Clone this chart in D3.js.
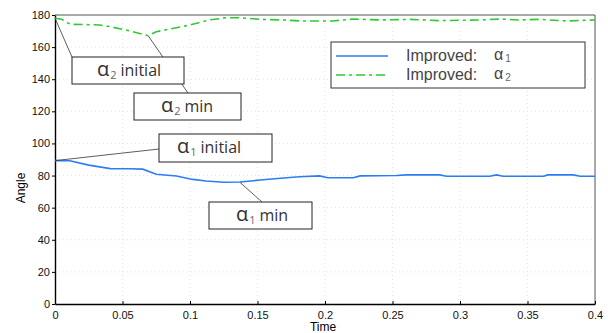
<!DOCTYPE html>
<html>
<head>
<meta charset="utf-8">
<script src="https://cdn.jsdelivr.net/npm/d3@7"></script>
<style>
  body { margin: 0; background: #fff; }
  svg { display: block; font-family: "Liberation Sans", Arial, sans-serif; }
</style>
</head>
<body>
<script>
// series: time (s) and angle (deg)
var alpha1Time = [0, 0.011, 0.025, 0.041, 0.055, 0.065, 0.075, 0.09, 0.102, 0.112, 0.125, 0.137, 0.152, 0.167, 0.181, 0.196, 0.202, 0.221, 0.226, 0.253, 0.26, 0.285, 0.29, 0.322, 0.327, 0.332, 0.362, 0.365, 0.384, 0.389, 0.4];
var alpha1Vals = [89.3, 89.2, 86.5, 84.3, 84.2, 84, 80.8, 79.7, 77.6, 76.6, 75.8, 76, 77.2, 78.3, 79.3, 79.8, 78.6, 78.6, 79.8, 80, 80.4, 80.4, 79.6, 79.6, 80.4, 79.6, 79.6, 80.4, 80.4, 79.6, 79.6];

var alpha2Time = [0, 0.005, 0.01, 0.012, 0.033, 0.041, 0.056, 0.069, 0.075, 0.088, 0.1, 0.115, 0.127, 0.137, 0.152, 0.169, 0.181, 0.206, 0.221, 0.241, 0.263, 0.285, 0.315, 0.33, 0.344, 0.359, 0.379, 0.4];
var alpha2Vals = [178, 177.3, 174.8, 174.2, 173.8, 172.7, 170, 167.1, 169.6, 171.7, 173.8, 177, 178.3, 178.3, 177.3, 176.9, 176.3, 176.3, 177.5, 176.9, 177.3, 176.5, 176.9, 177.5, 176.9, 177.3, 176.3, 176.9];

var xTicks = [0, 0.05, 0.1, 0.15, 0.2, 0.25, 0.3, 0.35, 0.4];
var yTicks = [0, 20, 40, 60, 80, 100, 120, 140, 160, 180];

var legendNames = ["Improved:", "Improved:"];
var legendSubs = ["1", "2"];

// annotation text + the data point each one points at
var noteSub = ["2", "2", "1", "1"];
var noteText = ["initial", "min", "initial", "min"];
var noteTime = [0, 0.069, 0, 0.137];
var noteVal = [178, 167.1, 89.3, 75.8];

var W = 608, H = 333;
var blue = "#2d7df2", green = "#2ccc2c";

var svg = d3.select("body").append("svg")
  .attr("width", W)
  .attr("height", H);

var x = d3.scaleLinear().domain([0, 0.4]).range([55, 595]);
var y = d3.scaleLinear().domain([0, 180]).range([304, 15]);

//--------------------------------------
// Grid + frame
//--------------------------------------

var grid = svg.append("g").attr("stroke", "#e4e4e4").attr("stroke-dasharray", "1,3");
grid.selectAll(".gx").data(xTicks.slice(1, -1)).enter().append("line")
  .attr("x1", function(d) { return x(d); }).attr("x2", function(d) { return x(d); })
  .attr("y1", y(180)).attr("y2", y(0));
grid.selectAll(".gy").data(yTicks.slice(1, -1)).enter().append("line")
  .attr("x1", x(0)).attr("x2", x(0.4))
  .attr("y1", function(d) { return y(d); }).attr("y2", function(d) { return y(d); });

svg.append("path")
  .attr("d", "M" + x(0) + "," + y(180) + "H" + x(0.4) + "V" + y(0))
  .attr("fill", "none")
  .attr("stroke", "#555");

var fmt = function(d) { return d === 0 ? "0" : String(+d.toFixed(2)); };

svg.append("g")
  .attr("transform", "translate(0," + y(0) + ")")
  .call(d3.axisBottom(x).tickValues(xTicks).tickFormat(fmt).tickSizeInner(-3).tickSizeOuter(0).tickPadding(7))
  .call(function(g) {
    g.select(".domain").attr("stroke", "#000").attr("stroke-width", 1.4);
    g.selectAll("text").attr("font-size", 11).attr("fill", "#111");
  });

svg.append("g")
  .attr("transform", "translate(" + x(0) + ",0)")
  .call(d3.axisLeft(y).tickValues(yTicks).tickSizeInner(3).tickSizeOuter(0).tickPadding(2))
  .call(function(g) {
    g.select(".domain").attr("stroke", "#000").attr("stroke-width", 1.4);
    g.selectAll("text").attr("font-size", 11).attr("fill", "#111");
  });

svg.append("text")
  .attr("transform", "translate(25,188) rotate(-90)")
  .attr("text-anchor", "middle")
  .attr("font-size", 12)
  .text("Angle");

svg.append("text")
  .attr("x", 323).attr("y", 331)
  .attr("text-anchor", "middle")
  .attr("font-size", 12)
  .text("Time");

//--------------------------------------
// Series
//--------------------------------------

var line = d3.line()
  .x(function(d) { return x(d[0]); })
  .y(function(d) { return y(d[1]); });

svg.append("path")
  .datum(d3.zip(alpha2Time, alpha2Vals))
  .attr("d", line)
  .attr("fill", "none")
  .attr("stroke", green)
  .attr("stroke-width", 1.6)
  .attr("stroke-dasharray", "9,4,3,4");

svg.append("path")
  .datum(d3.zip(alpha1Time, alpha1Vals))
  .attr("d", line)
  .attr("fill", "none")
  .attr("stroke", blue)
  .attr("stroke-width", 1.6);

//--------------------------------------
// Annotations
//--------------------------------------

// box rect [x, y, w, h] and leader end point
var boxes = [[72, 57, 112, 27], [134, 93, 107, 27], [159, 134, 113, 28], [209, 202, 103, 27]];
var ends = [[72, 57], [188, 93], [159, 149], [262, 202]];
var textX = [97, 161, 177, 236];

var notes = svg.append("g");
noteText.forEach(function(t, i) {
  notes.append("line")
    .attr("x1", x(noteTime[i])).attr("y1", y(noteVal[i]))
    .attr("x2", ends[i][0]).attr("y2", ends[i][1])
    .attr("stroke", "#333").attr("stroke-width", 0.8);
});
noteText.forEach(function(t, i) {
  var b = boxes[i];
  notes.append("rect")
    .attr("x", b[0]).attr("y", b[1]).attr("width", b[2]).attr("height", b[3])
    .attr("fill", "#fff").attr("stroke", "#222").attr("stroke-width", 1);
  var txt = notes.append("text")
    .attr("x", textX[i]).attr("y", b[1] + 19)
    .attr("fill", "#333")
    .attr("font-family", "'Open Sans', sans-serif");
  txt.append("tspan").attr("font-size", 20).text("α");
  txt.append("tspan").attr("font-size", 11).attr("dy", 3).attr("dx", 1).attr("fill", "#666").text(noteSub[i]);
  txt.append("tspan").attr("font-size", 16).attr("dy", -3).attr("dx", 4).text(t);
});

//--------------------------------------
// Legend
//--------------------------------------

var lg = svg.append("g");
lg.append("rect")
  .attr("x", 331).attr("y", 42).attr("width", 254).attr("height", 46)
  .attr("fill", "#fff").attr("stroke", "#333").attr("stroke-width", 1);

legendNames.forEach(function(name, i) {
  var ly = 56 + i * 19;
  lg.append("line")
    .attr("x1", 336).attr("x2", 388).attr("y1", ly).attr("y2", ly)
    .attr("stroke", i === 0 ? blue : green)
    .attr("stroke-width", 1.6)
    .attr("stroke-dasharray", i === 0 ? null : "9,4,3,4");
  lg.append("text")
    .attr("x", 406).attr("y", ly + 5)
    .attr("fill", "#444")
    .attr("font-size", 16)
    .text(name);
  var sym = lg.append("text")
    .attr("x", 494).attr("y", ly + 4)
    .attr("fill", "#444");
  sym.append("tspan").attr("font-size", 16).text("α");
  sym.append("tspan").attr("font-size", 10).attr("dx", 2).attr("dy", 2).attr("fill", "#666").text(legendSubs[i]);
});
</script>
</body>
</html>
